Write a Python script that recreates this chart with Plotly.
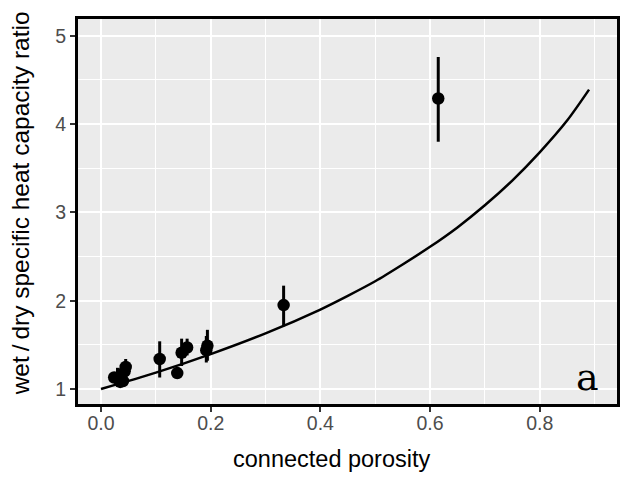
import plotly.graph_objects as go

# measured samples: connected porosity vs wet/dry heat capacity ratio
porosity = [0.024, 0.030, 0.035, 0.040, 0.043, 0.045, 0.107, 0.139, 0.147, 0.157, 0.192, 0.194, 0.333, 0.615]
ratio = [1.13, 1.12, 1.08, 1.09, 1.20, 1.25, 1.34, 1.18, 1.41, 1.47, 1.44, 1.49, 1.95, 4.29]
err_up = [0.06, 0.12, 0.05, 0.06, 0.08, 0.09, 0.20, 0.03, 0.16, 0.10, 0.16, 0.18, 0.22, 0.47]
err_down = [0.06, 0.06, 0.04, 0.05, 0.07, 0.08, 0.21, 0.03, 0.15, 0.09, 0.14, 0.17, 0.24, 0.49]

# model curve
model_phi = [0.0, 0.1, 0.2, 0.3, 0.4, 0.45, 0.5, 0.55, 0.6, 0.65, 0.7, 0.75, 0.8, 0.85, 0.89]
model_ratio = [1.0, 1.185, 1.395, 1.63, 1.90, 2.055, 2.22, 2.41, 2.61, 2.83, 3.08, 3.36, 3.68, 4.04, 4.39]

x_ticks = [0.0, 0.2, 0.4, 0.6, 0.8]
x_tick_text = ["0.0", "0.2", "0.4", "0.6", "0.8"]
y_ticks = [1, 2, 3, 4, 5]

x_title = "connected porosity"
y_title = "wet\u2009/\u2009dry specific heat capacity ratio"
panel_label = "a"

fig = go.Figure()
fig.add_trace(go.Scatter(
    x=model_phi, y=model_ratio, mode="lines",
    line=dict(color="black", width=2.5, shape="spline", smoothing=0.8),
    hoverinfo="skip", showlegend=False,
))
fig.add_trace(go.Scatter(
    x=porosity, y=ratio, mode="markers",
    marker=dict(color="black", size=12.5),
    error_y=dict(type="data", array=err_up, arrayminus=err_down,
                 width=0, thickness=3, color="black"),
    showlegend=False,
))

fig.add_annotation(x=0.888, y=1.14, text=panel_label, showarrow=False,
                   font=dict(family="DejaVu Serif", size=38, color="black"))

# axis titles placed as paper annotations
fig.add_annotation(xref="paper", yref="paper", x=0.472, y=-0.143,
                   text=x_title, showarrow=False, xanchor="center", yanchor="middle",
                   font=dict(family="Liberation Sans", size=23.5, color="black"))
fig.add_annotation(xref="paper", yref="paper", x=-0.107, y=0.522,
                   text=y_title, showarrow=False, textangle=-90,
                   xanchor="center", yanchor="middle",
                   font=dict(family="Liberation Sans", size=24.5, color="black"))

axis_common = dict(
    showgrid=True, gridcolor="white", gridwidth=1.5,
    minor=dict(showgrid=True, gridcolor="white", gridwidth=0.7),
    ticks="outside", ticklen=5, tickwidth=1.5, tickcolor="#333333",
    tickfont=dict(family="Liberation Sans", size=19.5, color="#4D4D4D"),
    showline=True, linecolor="black", linewidth=3, mirror=True,
    zeroline=False,
)

fig.update_layout(
    width=620, height=481,
    margin=dict(l=78, r=0, t=19, b=77),
    plot_bgcolor="#EBEBEB", paper_bgcolor="white",
    xaxis=dict(range=[-0.042, 0.941], tickvals=x_ticks, ticktext=x_tick_text,
               minor_tickvals=[0.1, 0.3, 0.5, 0.7, 0.9], ticklabelstandoff=-5,
               **axis_common),
    yaxis=dict(range=[0.83, 5.19], tickvals=y_ticks,
               minor_tickvals=[1.5, 2.5, 3.5, 4.5], **axis_common),
)

fig.write_html("out.html")
